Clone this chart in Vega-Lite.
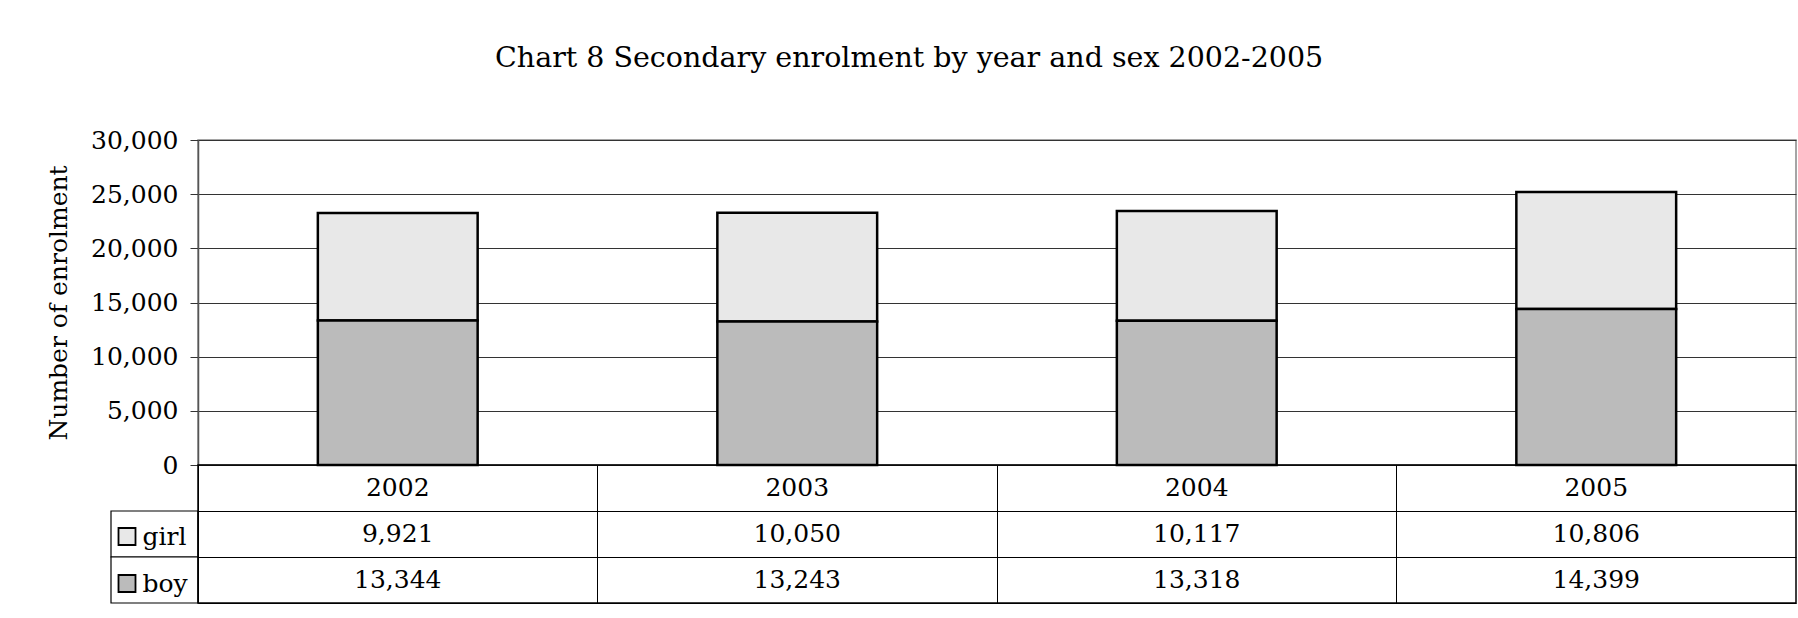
{
  "$schema": "https://vega.github.io/schema/vega-lite/v6.json",
  "autosize": {"type": "pad"},
  "padding": {"left": 45, "top": 43, "right": 3, "bottom": 16},
  "background": "white",
  "title": {
    "text": "Chart 8 Secondary enrolment by year and sex 2002-2005",
    "font": "DejaVu Serif", "fontSize": 28.5, "fontWeight": "normal", "color": "black",
    "anchor": "start", "frame": "group", "dx": 384, "offset": 55
  },
  "datasets": {
    "enrol": [
      {"year": "2002", "sex": "girl", "value": 9921},
      {"year": "2002", "sex": "boy", "value": 13344},
      {"year": "2003", "sex": "girl", "value": 10050},
      {"year": "2003", "sex": "boy", "value": 13243},
      {"year": "2004", "sex": "girl", "value": 10117},
      {"year": "2004", "sex": "boy", "value": 13318},
      {"year": "2005", "sex": "girl", "value": 10806},
      {"year": "2005", "sex": "boy", "value": 14399}
    ]
  },
  "columns": 2,
  "spacing": 0,
  "bounds": "flush",
  "align": "each",
  "concat": [
    {
      "width": 87, "height": 325,
      "view": {"stroke": null},
      "data": {"values": []},
      "mark": "point",
      "encoding": {}
    },
    {
      "width": 1598, "height": 325,
      "view": {"stroke": "#888888", "strokeWidth": 1.5},
      "data": {"name": "enrol"},
      "mark": {"type": "bar", "stroke": "black", "strokeWidth": 2.5},
      "encoding": {
        "x": {"field": "year", "type": "ordinal", "scale": {"paddingInner": 0.6, "paddingOuter": 0.3}, "axis": null},
        "y": {
          "field": "value", "type": "quantitative", "stack": "zero",
          "scale": {"domain": [0, 30000]},
          "axis": {
            "values": [0, 5000, 10000, 15000, 20000, 25000, 30000],
            "format": ",d", "title": "Number of enrolment",
            "labelFont": "DejaVu Serif", "labelFontSize": 25, "labelColor": "black", "labelPadding": 12,
            "titleFont": "DejaVu Serif", "titleFontSize": 25, "titleFontWeight": "normal", "titleColor": "black", "titlePadding": 19,
            "grid": true, "gridColor": "#333333", "gridWidth": 1,
            "tickColor": "#333333", "tickSize": 8, "domainColor": "#555555", "domainWidth": 1.5
          }
        },
        "color": {
          "field": "sex", "type": "nominal",
          "scale": {"domain": ["girl", "boy"], "range": ["#e8e8e8", "#bbbbbb"]},
          "legend": {
            "orient": "none", "legendX": 3.5, "legendY": 384, "title": null,
            "symbolType": "square", "symbolSize": 289, "symbolStrokeColor": "black", "symbolStrokeWidth": 1.8,
            "labelFont": "DejaVu Serif", "labelFontSize": 25, "labelColor": "black", "labelOffset": 3,
            "rowPadding": 21, "direction": "vertical"
          }
        },
        "order": {"field": "sex", "sort": "ascending"}
      }
    },
    {
      "width": 87, "height": 138,
      "view": {"stroke": null},
      "data": {"name": "enrol"},
      "transform": [{"filter": "datum.year === '2002'"}],
      "mark": {"type": "rect", "fill": "white", "stroke": "black", "strokeWidth": 1.2},
      "encoding": {
        "y": {"field": "sex", "type": "nominal", "scale": {"type": "band", "domain": ["year", "girl", "boy"], "paddingInner": 0, "paddingOuter": 0}, "axis": null}
      }
    },
    {
      "width": 1598, "height": 138,
      "view": {"stroke": "black", "strokeWidth": 1.5},
      "data": {"name": "enrol"},
      "encoding": {
        "x": {
          "field": "year", "type": "ordinal",
          "scale": {"type": "band", "paddingInner": 0, "paddingOuter": 0},
          "axis": {"grid": true, "bandPosition": 0, "gridColor": "black", "gridWidth": 1, "labels": false, "ticks": false, "domain": false, "title": null}
        }
      },
      "layer": [
        {
          "transform": [{"filter": "datum.sex === 'girl'"}],
          "mark": {"type": "text", "font": "DejaVu Serif", "fontSize": 25, "color": "black"},
          "encoding": {
            "y": {
              "datum": "year", "type": "ordinal",
              "scale": {"type": "band", "domain": ["year", "girl", "boy"], "paddingInner": 0, "paddingOuter": 0},
              "axis": {"grid": true, "bandPosition": 1, "gridColor": "black", "gridWidth": 1, "labels": false, "ticks": false, "domain": false, "title": null}
            },
            "text": {"field": "year"}
          }
        },
        {
          "mark": {"type": "text", "font": "DejaVu Serif", "fontSize": 25, "color": "black"},
          "encoding": {
            "y": {"field": "sex", "type": "ordinal"},
            "text": {"field": "value", "type": "quantitative", "format": ","}
          }
        }
      ]
    }
  ]
}
